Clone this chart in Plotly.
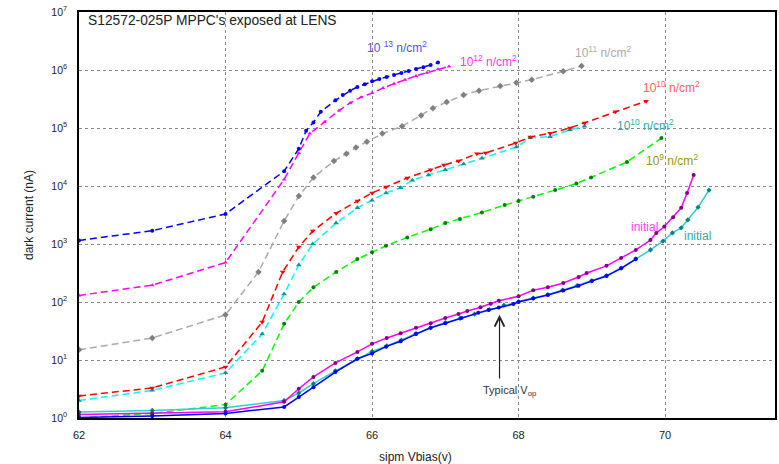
import plotly.graph_objects as go

# ---------------- data ----------------
f13_x = [62, 63, 64, 64.8, 65.0, 65.1, 65.2, 65.3, 65.5, 65.6, 65.7, 65.8, 65.9, 66.0, 66.1, 66.2, 66.3, 66.4, 66.5, 66.6, 66.7, 66.8, 66.9]
f13_y = [1150, 1700, 3300, 1.8e4, 4.4e4, 9e4, 1.25e5, 1.9e5, 3.0e5, 3.7e5, 4.4e5, 5.1e5, 5.7e5, 6.4e5, 7.0e5, 7.6e5, 8.2e5, 8.9e5, 9.6e5, 1.04e6, 1.12e6, 1.22e6, 1.35e6]

f12_x = [62, 63, 64, 64.8, 65.0, 65.15, 65.35, 65.55, 65.7, 65.85, 66.0, 66.15, 66.3, 66.45, 66.6, 66.75, 66.9, 67.05]
f12_y = [130, 195, 480, 1.3e4, 3.7e4, 8e4, 1.27e5, 2.0e5, 2.7e5, 3.4e5, 4.0e5, 4.9e5, 5.8e5, 6.8e5, 7.9e5, 9.0e5, 1.03e6, 1.15e6]

f11_x = [62, 63, 64, 64.45, 64.8, 65.0, 65.2, 65.48, 65.65, 65.78, 65.93, 66.14, 66.41, 66.67, 66.83, 67.02, 67.25, 67.46, 67.75, 67.97, 68.18, 68.61, 68.86]
f11_y = [15, 24, 60, 330, 2.5e3, 6.7e3, 1.4e4, 2.7e4, 3.6e4, 4.6e4, 5.8e4, 8e4, 1.07e5, 1.65e5, 2.2e5, 2.8e5, 3.7e5, 4.4e5, 5.3e5, 6.0e5, 6.8e5, 9.5e5, 1.17e6]

f10a_x = [62, 63, 64, 64.5, 64.78, 65.0, 65.19, 65.51, 65.8, 66.0, 66.19, 66.48, 66.8, 66.98, 67.18, 67.43, 67.55, 67.96, 68.16, 68.43, 68.7, 68.9, 69.32, 69.74]
f10a_y = [2.4, 3.3, 7.6, 45, 330, 890, 1670, 3400, 5500, 7600, 9600, 1.38e4, 1.9e4, 2.3e4, 2.7e4, 3.6e4, 3.7e4, 5.5e4, 7e4, 8.1e4, 1e5, 1.22e5, 1.9e5, 2.9e5]

f10b_x = [62, 63, 64, 64.5, 64.8, 65.0, 65.19, 65.51, 65.8, 66.0, 66.19, 66.39, 66.55, 66.77, 67.0, 67.25, 67.5, 67.97, 68.16, 68.43, 68.7, 68.9]
f10b_y = [2.0, 3.0, 6.0, 28, 138, 435, 1000, 2300, 4200, 5700, 7600, 9300, 1.26e4, 1.55e4, 1.9e4, 2.4e4, 3.0e4, 4.7e4, 6.8e4, 7.1e4, 9.3e4, 1.07e5]

f9_x = [62, 63, 64, 64.5, 64.8, 65.0, 65.2, 65.51, 65.8, 66.0, 66.19, 66.48, 66.8, 67.0, 67.2, 67.5, 67.81, 68.0, 68.2, 68.5, 68.79, 68.99, 69.48, 69.95]
f9_y = [1.0, 1.2, 1.7, 6.5, 42, 100, 180, 330, 550, 720, 930, 1300, 1800, 2300, 2700, 3500, 4700, 5500, 6500, 8500, 1.1e4, 1.4e4, 2.6e4, 6.7e4]

initm_x = [62, 63, 64, 64.8, 65.0, 65.2, 65.5, 65.8, 66.0, 66.2, 66.39, 66.6, 66.8, 67.0, 67.18, 67.3, 67.48, 67.62, 67.73, 68.0, 68.2, 68.4, 68.61, 68.82, 68.93, 69.2, 69.4, 69.6, 69.8, 69.88, 69.99, 70.11, 70.22, 70.3, 70.39]
initm_y = [1.15, 1.2, 1.28, 1.9, 3.2, 5.1, 8.9, 13.8, 19, 24, 29, 36, 43, 53, 62, 70, 81, 93, 105, 126, 160, 180, 213, 270, 316, 420, 575, 790, 1170, 1550, 2000, 2900, 4200, 7600, 15500]

initc_x = [62, 63, 64, 64.8, 65.0, 65.2, 65.5, 65.8, 66.0, 66.2, 66.4, 66.6, 66.8, 67.0, 67.2, 67.4, 67.6, 67.8, 68.0, 68.2, 68.4, 68.6, 68.8, 69.0, 69.2, 69.4, 69.6, 69.8, 69.97, 70.1, 70.22, 70.31, 70.45, 70.6]
initc_y = [1.27, 1.35, 1.5, 2.0, 2.7, 3.9, 6.5, 10.5, 14, 17.5, 22, 28.5, 36, 44, 52, 62, 74, 88, 102, 117, 134, 160, 192, 232, 285, 385, 555, 790, 1120, 1550, 1900, 2600, 4300, 8500]

initb_x = [62, 63, 64, 64.8, 65.0, 65.2, 65.5, 65.8, 66.0, 66.19, 66.39, 66.6, 66.8, 67.0, 67.22, 67.45, 67.59, 67.73, 67.93, 68.0, 68.2, 68.4, 68.61, 68.82, 69.0, 69.2, 69.4, 69.6]
initb_y = [1.02, 1.08, 1.2, 1.55, 2.3, 3.4, 6.2, 10.5, 13, 17, 21, 28, 36, 43, 53, 65, 73, 80, 92, 100, 115, 132, 158, 190, 230, 280, 380, 550]

x_ticks = [62, 64, 66, 68, 70]
y_tickvals = [1, 10, 100, 1e3, 1e4, 1e5, 1e6, 1e7]
y_ticktext = ["10<sup>0</sup>", "10<sup>1</sup>", "10<sup>2</sup>", "10<sup>3</sup>",
              "10<sup>4</sup>", "10<sup>5</sup>", "10<sup>6</sup>", "10<sup>7</sup>"]

FONT = "Liberation Sans, Arial, sans-serif"
DASH = "7px,4px"

fig = go.Figure()

def add(x, y, lc, mc, sym, dash, msize=5):
    fig.add_trace(go.Scatter(
        x=x, y=y, mode="lines+markers",
        line=dict(color=lc, width=1.5, dash=dash),
        marker=dict(color=mc, symbol=sym, size=msize),
        showlegend=False, hoverinfo="skip"))

add(f11_x, f11_y, "#aaaaaa", "#808080", "diamond", DASH)
add(f10b_x, f10b_y, "#00ffff", "#009999", "triangle-up", DASH)
add(f10a_x, f10a_y, "#ff0000", "#ff0000", "triangle-down", DASH)
add(f9_x, f9_y, "#00ff00", "#008000", "circle", DASH, 4)
add(f12_x, f12_y, "#ff00ff", "#ff00ff", "triangle-up", DASH, 4)
add(f13_x, f13_y, "#0000ff", "#0000ff", "circle", DASH, 4)
add(initc_x, initc_y, "#33cccc", "#008080", "diamond", "solid", 4)
add(initm_x, initm_y, "#ff00ff", "#800080", "circle", "solid", 4)
add(initb_x, initb_y, "#0000ff", "#0000ff", "circle", "solid", 4)

def lab(text, x, ly, color, size=12):
    fig.add_annotation(x=x, y=ly, xref="x", yref="y", text=text, showarrow=False,
                       font=dict(family=FONT, size=size, color=color),
                       xanchor="center", yanchor="middle")

lab("10 <sup>13</sup> n/cm<sup>2</sup>", 66.34, 6.40, "#5050ff")
lab("10<sup>12</sup> n/cm<sup>2</sup>", 67.59, 6.16, "#ff33ff")
lab("10<sup>11</sup> n/cm<sup>2</sup>", 69.15, 6.31, "#aaaaaa")
lab("10<sup>10</sup> n/cm<sup>2</sup>", 70.09, 5.71, "#ff6060")
lab("10<sup>10</sup> n/cm<sup>2</sup>", 69.73, 5.05, "#33aaaa")
lab("10<sup>9</sup> n/cm<sup>2</sup>", 70.09, 4.45, "#999900")
lab("initial", 69.72, 3.29, "#ff44ff")
lab("initial", 70.44, 3.14, "#33aaaa")
lab("Typical V<sub>op</sub>", 67.87, 0.46, "#333333", 11)

# arrow
fig.add_annotation(x=67.74, y=1.78, ax=67.74, ay=0.655, xref="x", yref="y",
                   axref="x", ayref="y", text="", showarrow=True,
                   arrowhead=5, arrowsize=1.6, arrowwidth=1.2, arrowcolor="#222222")

# title inside plot
fig.add_annotation(x=0.01, y=0.98, xref="paper", yref="paper", xanchor="left", yanchor="middle",
                   text="S12572-025P MPPC's exposed at LENS", showarrow=False,
                   font=dict(family=FONT, size=13.8, color="#222222"))

# axis titles
fig.add_annotation(x=0.483, y=0, xref="paper", yref="paper", yshift=-39, xanchor="center",
                   yanchor="middle", text="sipm Vbias(v)", showarrow=False,
                   font=dict(family=FONT, size=12, color="#222222"))
fig.add_annotation(x=0, y=0.5, xref="paper", yref="paper", xshift=-50, textangle=-90,
                   xanchor="center", yanchor="middle", text="dark current (nA)", showarrow=False,
                   font=dict(family=FONT, size=12, color="#222222"))

fig.update_layout(
    width=779, height=464,
    margin=dict(l=79, r=2, t=12, b=46),
    paper_bgcolor="white", plot_bgcolor="white",
    font=dict(family=FONT, size=10, color="#222222"),
    xaxis=dict(range=[62, 71.5], tickvals=x_ticks, showgrid=True, gridcolor="#888888",
               griddash="dot", gridwidth=1, showline=True, linecolor="black", linewidth=1.5,
               mirror=True, ticks="", zeroline=False, tickfont=dict(size=11),
               ticklabelstandoff=6),
    yaxis=dict(type="log", range=[0, 7], tickvals=y_tickvals, ticktext=y_ticktext,
               showgrid=True, gridcolor="#888888", griddash="dot", gridwidth=1,
               showline=True, linecolor="black", linewidth=1.5, mirror=True,
               ticks="", zeroline=False, tickfont=dict(size=10.5),
               ticklabelstandoff=8),
)

fig.write_html("out.html")
